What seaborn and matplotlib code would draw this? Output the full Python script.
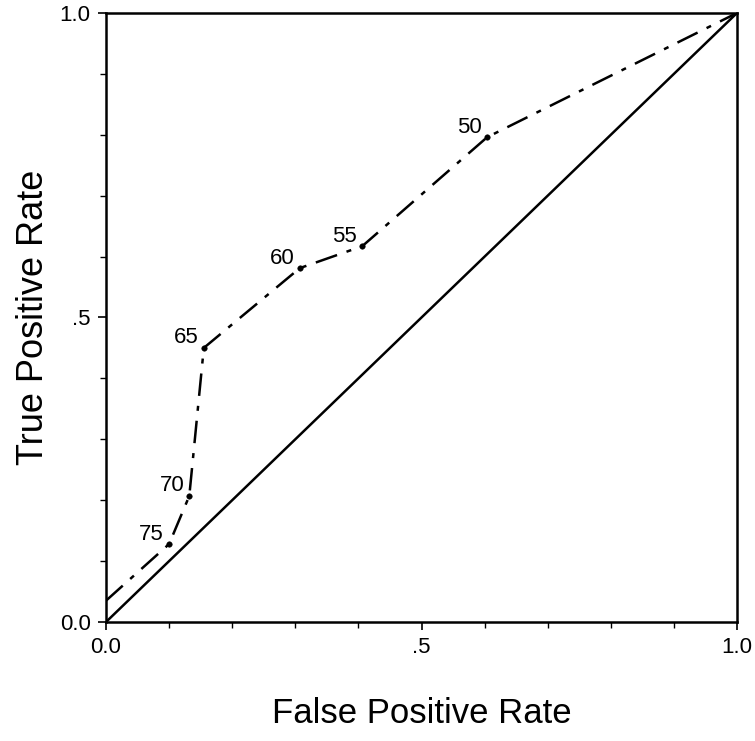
import numpy as np
import pandas as pd
import matplotlib
matplotlib.use('Agg')
import matplotlib.pyplot as plt
import seaborn as sns

# ROC points (cut-off score -> FPR, TPR)
cutoffs = ['', '75', '70', '65', '60', '55', '50', '']
fpr = [0.0, 0.100, 0.132, 0.155, 0.307, 0.406, 0.604, 1.0]
tpr = [0.035, 0.128, 0.207, 0.450, 0.581, 0.617, 0.796, 1.0]
diag = [0.0, 1.0]

df = pd.DataFrame({'fpr': fpr, 'tpr': tpr, 'cut': cutoffs})

sns.set_style('ticks', {'text.color': 'black', 'axes.labelcolor': 'black',
                        'xtick.color': 'black', 'ytick.color': 'black',
                        'axes.edgecolor': 'black'})
plt.rcParams['font.family'] = ['Liberation Sans', 'DejaVu Sans']

fig = plt.figure(figsize=(7.55, 7.41), dpi=100)
ax = fig.add_axes([0.1404, 0.1606, 0.9762 - 0.1404, 0.9825 - 0.1606])

sns.lineplot(x=diag, y=diag, color='black', lw=1.8, ax=ax)
sns.lineplot(data=df, x='fpr', y='tpr', sort=False, color='black', lw=1.8,
             linestyle=(0, (9, 4, 2, 4)), ax=ax)
pts = df[df.cut != '']
sns.scatterplot(data=pts, x='fpr', y='tpr', color='black', s=16, edgecolor='black', ax=ax, zorder=5)

for _, r in pts.iterrows():
    ax.annotate(r.cut, (r.fpr, r.tpr), xytext=(-5, 10), textcoords='offset pixels',
                ha='right', va='center', fontsize=16, color='black')

ax.set_xlim(0, 1)
ax.set_ylim(0, 1)
ax.set_xticks([0, 0.5, 1.0])
ax.set_xticklabels(['0.0', '.5', '1.0'])
ax.set_yticks([0, 0.5, 1.0])
ax.set_yticklabels(['0.0', '.5', '1.0'])
ax.set_xticks(np.arange(0.1, 1.0, 0.1), minor=True)
ax.set_yticks(np.arange(0.1, 1.0, 0.1), minor=True)
ax.tick_params(axis='both', which='major', labelsize=16, length=6, width=1.2, pad=5)
ax.tick_params(axis='both', which='minor', length=4, width=1.0)

for s in ax.spines.values():
    s.set_linewidth(1.8)
    s.set_visible(True)

ax.set_xlabel('False Positive Rate', fontsize=25, labelpad=28)
ax.set_ylabel('True Positive Rate', fontsize=26, labelpad=6)

fig.savefig('out.png', dpi=100)
